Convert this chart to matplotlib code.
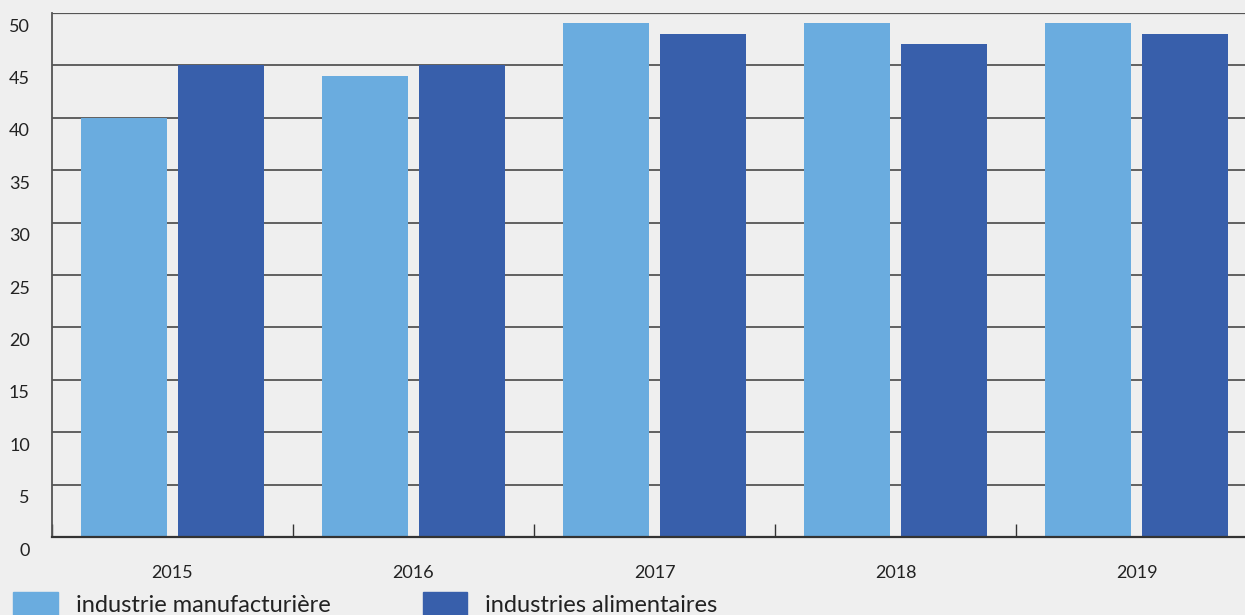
import numpy as np
import matplotlib.pyplot as plt
import matplotlib.transforms as mtransforms
from matplotlib.patches import Patch

# Données
annees = ['2015', '2016', '2017', '2018', '2019']
manufacturiere = [40, 44, 49, 49, 49]
alimentaires = [45, 45, 48, 47, 48]
yticks = [0, 5, 10, 15, 20, 25, 30, 35, 40, 45, 50]

bg = '#efefef'
c_clair = '#6aacdf'
c_fonce = '#385fab'

plt.rcParams['font.family'] = ['Lato', 'DejaVu Sans']

fig = plt.figure(figsize=(12.45, 6.15), dpi=100, facecolor=bg)
ax = fig.add_axes([52 / 1245, 1 - 537 / 615, 1 - 52 / 1245, (537 - 13) / 615])
ax.set_facecolor(bg)

x = np.arange(len(annees))
w = 0.36
off = 0.201
ax.bar(x - off, manufacturiere, w, color=c_clair, zorder=3)
ax.bar(x + off, alimentaires, w, color=c_fonce, zorder=3)

ax.set_xlim(-0.5, 4.45)
ax.set_ylim(0, 50)

# grille horizontale
for v in yticks[1:]:
    ax.axhline(v, color='#555555', lw=1.3 if v < 50 else 1.6, zorder=1)

ax.set_yticks(yticks)
ax.set_yticklabels([str(v) for v in yticks], fontsize=13, color='#222222')
ax.tick_params(axis='y', length=0, pad=16)
offset = mtransforms.ScaledTranslation(0, -12 / 100, fig.dpi_scale_trans)
for lab in ax.get_yticklabels():
    lab.set_transform(lab.get_transform() + offset)

ax.set_xticks(x)
ax.set_xticklabels(annees, fontsize=13, color='#222222')
ax.tick_params(axis='x', which='major', length=0, pad=20)
ax.set_xticks(np.arange(-0.5, 4.5, 1), minor=True)
ax.tick_params(axis='x', which='minor', direction='in', length=9.5, width=1, color='#333333')

for s in ['top', 'right']:
    ax.spines[s].set_visible(False)
ax.spines['left'].set_color('#555555')
ax.spines['left'].set_linewidth(1.3)
ax.spines['bottom'].set_color('#333333')
ax.spines['bottom'].set_linewidth(1.6)
ax.spines['bottom'].set_zorder(4)

handles = [Patch(color=c_clair, label='industrie manufacturière'),
           Patch(color=c_fonce, label='industries alimentaires')]
fig.legend(handles=handles, loc='center left', bbox_to_anchor=(13 / 1245, 1 - 604 / 615),
           ncol=2, frameon=False, fontsize=17, handlelength=1.9, handleheight=1.2,
           handletextpad=0.76, columnspacing=3.9, labelcolor='#222222',
           borderpad=0, borderaxespad=0)

fig.savefig('out.png', dpi=100, facecolor=bg)
